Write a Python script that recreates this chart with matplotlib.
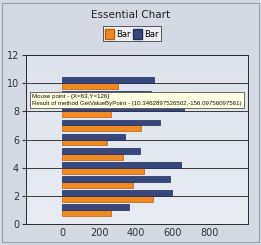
import numpy as np
import matplotlib.pyplot as plt
from matplotlib.patches import Rectangle

# data
positions = [1, 2, 3, 4, 5, 6, 7, 8, 9, 10]
orange_vals = [263, 494, 385, 441, 328, 241, 429, 263, 330, 301]
blue_vals = [362, 595, 584, 641, 422, 340, 530, 661, 480, 499]
series_names = ["Bar", "Bar"]
x_ticks = [0, 200, 400, 600, 800]
y_ticks = [0, 2, 4, 6, 8, 10, 12]

fig = plt.figure(figsize=(2.61, 2.45), dpi=100)
fig.patch.set_facecolor("#d4d9e4")

# outer panel border
fig.add_artist(Rectangle((0.008, 0.012), 0.984, 0.976, transform=fig.transFigure,
                         fill=False, edgecolor="#9aa0ab", linewidth=0.8))

ax = fig.add_axes([0.0996, 0.0857, 0.8504, 0.6898])
ax.set_facecolor("#e6e9f1")

# soft vertical gradient in the plot area
grad = np.linspace(0, 1, 256).reshape(-1, 1)
ax.imshow(grad, extent=(-195, 1005, 0, 12), aspect="auto", origin="lower",
          cmap=plt.matplotlib.colors.LinearSegmentedColormap.from_list(
              "bg", ["#e9ecf3", "#dde2ec"]), zorder=0)

h = 0.42
y = np.array(positions)
ax.barh(y - h / 2, orange_vals, height=h, color="#f28a22",
        edgecolor="#b85d10", linewidth=0.5, zorder=3)
ax.barh(y + h / 2, blue_vals, height=h, color="#37487f",
        edgecolor="#232d55", linewidth=0.5, zorder=3)

ax.set_xlim(-195, 1005)
ax.set_ylim(0, 12)
ax.set_xticks(x_ticks)
ax.set_yticks(y_ticks)
ax.grid(axis="y", color="#3a3a3a", linewidth=0.7, zorder=2)
ax.tick_params(axis="x", length=0, labelsize=7, colors="#333333", pad=3)
ax.tick_params(axis="y", length=3, labelsize=7, colors="#333333", pad=2)
for s in ax.spines.values():
    s.set_color("#2a2a2a")
    s.set_linewidth(0.7)

fig.text(0.5, 0.938, "Essential Chart", ha="center", va="center",
         fontsize=7.5, color="#222222")

handles = [Rectangle((0, 0), 1, 1, facecolor="#f28a22", edgecolor="#b85d10"),
           Rectangle((0, 0), 1, 1, facecolor="#37487f", edgecolor="#232d55")]
leg = fig.legend(handles, series_names, loc="center", bbox_to_anchor=(0.505, 0.862),
                 ncol=2, fontsize=6, frameon=True, fancybox=False,
                 handlelength=1.1, handleheight=1.5, handletextpad=0.2,
                 columnspacing=0.3, borderpad=0.3, borderaxespad=0)
leg.get_frame().set_edgecolor("#333333")
leg.get_frame().set_linewidth(0.7)
leg.get_frame().set_facecolor("#f4f5f8")

# tooltip
ax.text(-160, 8.8,
        "Mouse point - {X=63,Y=126}\n"
        "Result of method GetValueByPoint - (10.3462897526502,-156.09756097561)",
        fontsize=4.4, family="Liberation Sans",
        color="#111111", va="center", ha="left", zorder=6, linespacing=1.3,
        bbox=dict(boxstyle="square,pad=0.35", facecolor="#ffffe1",
                  edgecolor="#555555", linewidth=0.6))

fig.savefig("out.png", dpi=100, facecolor=fig.get_facecolor())
